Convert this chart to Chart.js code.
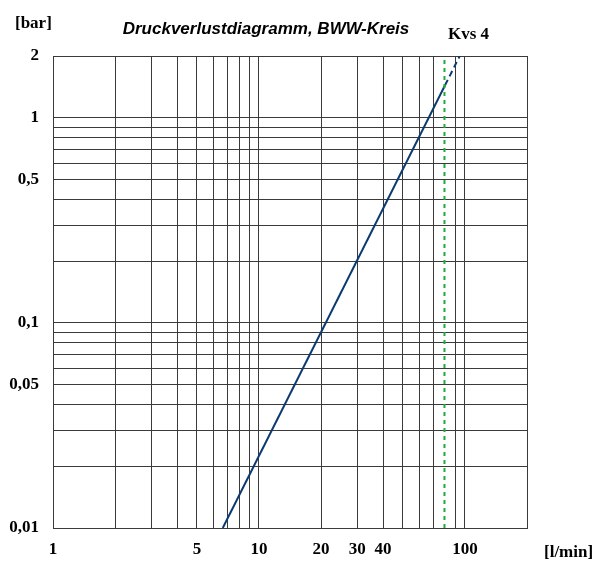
<!DOCTYPE html>
<html>
<head>
<meta charset="utf-8">
<script src="https://cdn.jsdelivr.net/npm/chart.js@4"></script>
<style>
  body { margin: 0; background: #fff; }
  canvas { display: block; }
</style>
</head>
<body>
<canvas id="myChart" width="606" height="566"></canvas>
<script>
// Durchfluss [l/min] und Druckverlust [bar] der Kennlinie
var flowSolid = [6.67, 80]
var dpSolid = [0.01, 1.44]
var flowDashed = [80, 94.3]
var dpDashed = [1.44, 2]

// Kvs-Markierung
var kvsFlow = [79.5, 79.5]
var kvsDp = [0.01, 2]

// 80 fehlt: dort liegt die Kvs-Linie
var xTicks = [1, 2, 3, 4, 5, 6, 7, 8, 9, 10, 20, 30, 40, 50, 60, 70, 90, 100, 200]
var xLabelValues = [1, 5, 10, 20, 30, 40, 100]
var xLabelTexts = ['1', '5', '10', '20', '30', '40', '100']

var yTicks = [0.01, 0.02, 0.03, 0.04, 0.05, 0.06, 0.07, 0.08, 0.09,
              0.1, 0.2, 0.3, 0.4, 0.5, 0.6, 0.7, 0.8, 0.9, 1, 2]
var yLabelValues = [0.01, 0.05, 0.1, 0.5, 1, 2]
var yLabelTexts = ['0,01', '0,05', '0,1', '0,5', '1', '2']

function pts(xs, ys) {
    var out = []
    for (var i = 0; i < xs.length; i++) out.push({ x: xs[i], y: ys[i] })
    return out
}

function labelFor(v, values, texts) {
    for (var i = 0; i < values.length; i++) {
        if (Math.abs(values[i] - v) < 1e-9) return texts[i]
    }
    return ''
}

var tickFont = { family: 'Liberation Serif', size: 17, weight: 'bold' }

var textPlugin = {
    id: 'texts',
    afterDraw: function (chart) {
        var ctx = chart.ctx
        var xs = chart.scales.x
        ctx.save()
        ctx.fillStyle = '#000'
        ctx.textBaseline = 'alphabetic'

        ctx.font = 'italic bold 17px "Liberation Sans"'
        ctx.textAlign = 'center'
        ctx.fillText('Druckverlustdiagramm, BWW-Kreis', 266, 34)

        ctx.font = 'bold 17px "Liberation Serif"'
        ctx.textAlign = 'left'
        ctx.fillText('[bar]', 15, 28)
        ctx.fillText('[l/min]', 544, 557)
        ctx.textAlign = 'center'
        ctx.fillText('Kvs 4', xs.getPixelForValue(kvsFlow[0]) + 24, 39)
        ctx.restore()
    }
}

var myCharts = document.getElementById("myChart").getContext("2d")
var chart = new Chart(myCharts, {
    type: 'scatter',
    data: {
        datasets: [
            {
                label: 'Kvs 4',
                data: pts(kvsFlow, kvsDp),
                showLine: true,
                borderColor: '#1faa3c',
                borderWidth: 2,
                borderDash: [4, 4],
                pointRadius: 0
            },
            {
                label: 'Kennlinie',
                data: pts(flowSolid, dpSolid),
                showLine: true,
                borderColor: '#0b3a70',
                borderWidth: 2,
                pointRadius: 0
            },
            {
                label: 'Kennlinie (extrapoliert)',
                data: pts(flowDashed, dpDashed),
                showLine: true,
                borderColor: '#0b3a70',
                borderWidth: 2,
                borderDash: [6, 4],
                pointRadius: 0
            }
        ]
    },
    options: {
        responsive: false,
        animation: false,
        devicePixelRatio: 1,
        layout: { padding: { top: 56, right: 79, left: 0, bottom: 0 } },
        plugins: {
            legend: { display: false },
            tooltip: { enabled: false }
        },
        scales: {
            x: {
                type: 'logarithmic',
                min: 1,
                max: 200,
                afterBuildTicks: function (scale) {
                    scale.ticks = xTicks.map(function (v) { return { value: v } })
                },
                afterFit: function (scale) { scale.height = 38 },
                ticks: {
                    autoSkip: false,
                    maxRotation: 0,
                    padding: 11,
                    color: '#000',
                    font: tickFont,
                    callback: function (v) { return labelFor(v, xLabelValues, xLabelTexts) }
                },
                grid: { color: '#3a3a3a', lineWidth: 1, drawTicks: false },
                border: { color: '#3a3a3a', width: 1 }
            },
            y: {
                type: 'logarithmic',
                min: 0.01,
                max: 2,
                afterBuildTicks: function (scale) {
                    scale.ticks = yTicks.map(function (v) { return { value: v } })
                },
                afterFit: function (scale) { scale.width = 53 },
                ticks: {
                    autoSkip: false,
                    padding: 14,
                    color: '#000',
                    font: tickFont,
                    callback: function (v) { return labelFor(v, yLabelValues, yLabelTexts) }
                },
                grid: { color: '#3a3a3a', lineWidth: 1, drawTicks: false },
                border: { color: '#3a3a3a', width: 1 }
            }
        }
    },
    plugins: [textPlugin]
})
</script>
</body>
</html>
